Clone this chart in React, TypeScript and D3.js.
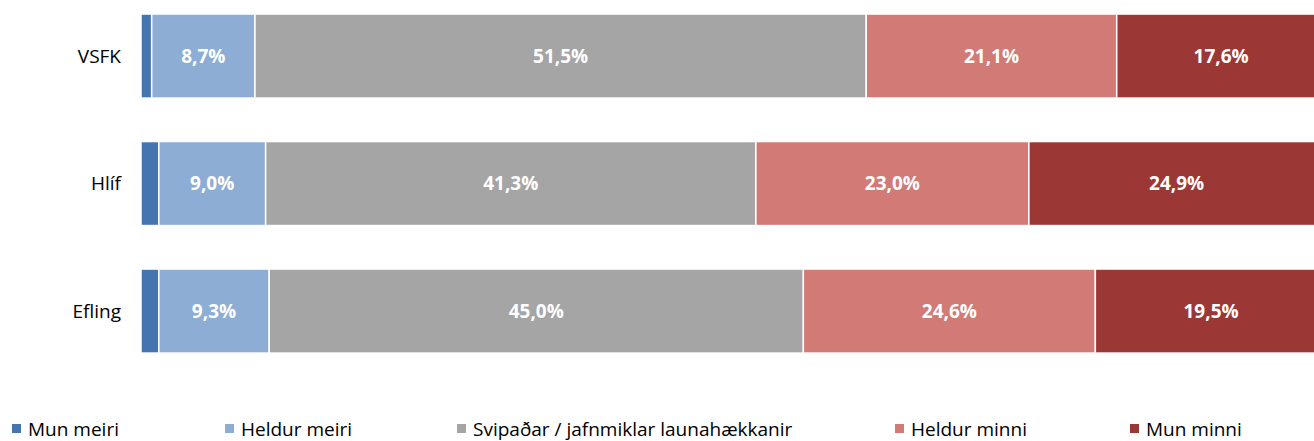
import React from "react";
import * as d3 from "d3";

const categories = ["VSFK", "Hlíf", "Efling"];
const seriesNames = [
  "Mun meiri",
  "Heldur meiri",
  "Svipaðar / jafnmiklar launahækkanir",
  "Heldur minni",
  "Mun minni",
];
const munMeiri = [0.9, 1.5, 1.5];
const heldurMeiri = [8.7, 9.0, 9.3];
const svipadar = [51.5, 41.3, 45.0];
const heldurMinni = [21.1, 23.0, 24.6];
const munMinni = [17.6, 24.9, 19.5];
const seriesColors = ["#4575B0", "#8DADD5", "#A5A5A5", "#D17A76", "#9B3836"];
const showLabel = [false, true, true, true, true];

const W = 1314;
const H = 441;
const FONT = "'Open Sans', sans-serif";

const legendX = [12, 225, 457, 895, 1130];

const App = () => {
  const series = [munMeiri, heldurMeiri, svipadar, heldurMinni, munMinni];
  const rows = categories.map((c, i) => {
    const r: any = { category: c };
    seriesNames.forEach((s, j) => (r[s] = series[j][i]));
    return r;
  });
  const stacked = d3.stack().keys(seriesNames)(rows);

  const x = d3.scaleLinear().domain([0, 100]).range([141, 1328]);
  const y = d3
    .scaleBand()
    .domain(categories)
    .range([-7.7, 374.8])
    .paddingInner(0.341)
    .paddingOuter(0.1705);

  const fmt = (v: number) => d3.format(".1f")(v).replace(".", ",") + "%";

  return (
    <svg
      width={W}
      height={H}
      style={{ position: "absolute", left: 0, top: 0, background: "#fff" }}
    >
      {stacked.map((layer, j) => (
        <g key={layer.key}>
          {layer.map((d, i) => {
            const x0 = x(d[0]);
            const x1 = x(d[1]);
            const yy = y(categories[i]) as number;
            return (
              <g key={i}>
                <rect
                  x={x0}
                  y={yy}
                  width={x1 - x0}
                  height={y.bandwidth()}
                  fill={seriesColors[j]}
                  stroke="#fff"
                  strokeWidth={1.5}
                />
                {showLabel[j] && (
                  <text
                    x={(x0 + x1) / 2}
                    y={yy + y.bandwidth() / 2}
                    dy="0.36em"
                    textAnchor="middle"
                    fill="#fff"
                    fontFamily={FONT}
                    fontWeight="bold"
                    fontSize={19}
                  >
                    {fmt(d[1] - d[0])}
                  </text>
                )}
              </g>
            );
          })}
        </g>
      ))}
      {categories.map((c) => (
        <text
          key={c}
          x={121}
          y={(y(c) as number) + y.bandwidth() / 2}
          dy="0.36em"
          textAnchor="end"
          fill="#000"
          fontFamily={FONT}
          fontSize={19}
        >
          {c}
        </text>
      ))}
      {seriesNames.map((s, j) => (
        <g key={s}>
          <rect x={legendX[j]} y={424} width={9} height={9} fill={seriesColors[j]} />
          <text
            x={legendX[j] + 16}
            y={435.5}
            fill="#000"
            fontFamily={FONT}
            fontSize={19}
          >
            {s}
          </text>
        </g>
      ))}
    </svg>
  );
};

export default App;
